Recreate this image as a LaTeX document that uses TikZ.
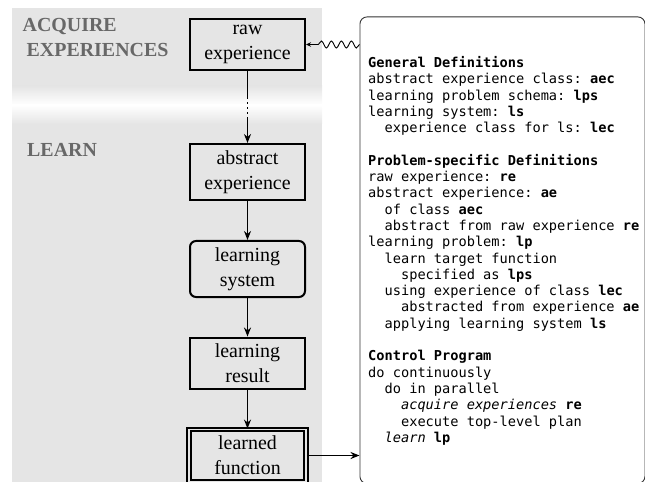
\documentclass[tikz,border=0pt]{standalone}
\usepackage{fontspec}
\setmainfont{Liberation Serif}
\setmonofont{DejaVu Sans Mono}
\usetikzlibrary{positioning,arrows.meta,decorations.pathmorphing}

\definecolor{bggray}{RGB}{229,229,229}
\definecolor{headgray}{RGB}{104,104,104}

% two monospace characters of indentation
\newcommand{\ind}{\hphantom{xx}}

\tikzset{
  stage/.style={draw, line width=2bp, text width=110bp, inner xsep=2.5bp,
    inner ysep=6.5bp, align=center, font=\fontsize{20}{25}\selectfont},
  phase/.style={anchor=north west, inner sep=0pt, align=left, text=headgray,
    font=\fontsize{20}{24.5}\selectfont\bfseries},
  flow/.style={line width=1.9bp},
  flowarrow/.style={flow, -{Stealth[length=9bp,width=7bp]}},
  wave/.style={decorate, decoration={snake, amplitude=3.5bp,
    segment length=10bp, post length=8bp}, line width=0.9bp,
    -{Stealth[length=5bp,width=4.5bp]}},
  defbox/.style={draw=black!80, line width=0.9bp, rounded corners=7bp,
    anchor=north west, minimum width=285bp, minimum height=466.5bp},
  code/.style={anchor=north west, inner sep=0pt, align=left,
    font=\fontsize{13.7}{16.35}\selectfont\ttfamily}
}

\begin{document}
\begin{tikzpicture}[x=1bp, y=-1bp]
  \useasboundingbox (0,0) rectangle (645,482);

  % phase background with a fade between the two phases
  \fill[bggray] (12,8) rectangle (322,490);
  \shade[top color=bggray, bottom color=white] (12,86) rectangle (322,105);
  \shade[top color=white, bottom color=bggray] (12,105) rectangle (322,124);

  \node[phase] (acquire) at (26.5,18.3) {\hspace*{-4bp}ACQUIRE\\EXPERIENCES};
  \node[phase] (learn) at (27,143.3) {LEARN};

  % processing chain
  \node[stage] (raw) at (247.5,44.5) {raw\\experience};
  \node[stage] (abstract) at (247.5,172) {abstract\\experience};
  \node[stage, rounded corners=6bp] (system) at (247.5,269) {learning\\system};
  \node[stage] (result) at (247.5,363.5) {learning\\result};
  \node[stage, line width=1.9bp, double=bggray, double distance=1.5bp,
    inner xsep=3.5bp] (function) at (247.5,455.5) {learned\\function};

  \coordinate[below=26bp of raw.south] (gapA);
  \coordinate[below=48bp of raw.south] (gapB);
  \draw[flow] (raw) -- (gapA);
  \draw[flow, dash pattern=on 2bp off 3bp] (gapA) -- (gapB);
  \draw[flowarrow] (gapB) -- (abstract);
  \draw[flowarrow] (abstract) -- (system);
  \draw[flowarrow] (system) -- (result);
  \draw[flowarrow] (result) -- (function);

  % agent program
  \node[defbox] (defs) at (359.5,16.5) {};
  \node[code] (prog) at (368,56.3) {%
    \textbf{General Definitions}\\
    abstract experience class: \textbf{aec}\\
    learning problem schema: \textbf{lps}\\
    learning system: \textbf{ls}\\
    \ind experience class for ls: \textbf{lec}\\[16.35bp]
    \textbf{Problem-specific Definitions}\\
    raw experience: \textbf{re}\\
    abstract experience: \textbf{ae}\\
    \ind of class \textbf{aec}\\
    \ind abstract from raw experience \textbf{re}\\
    learning problem: \textbf{lp}\\
    \ind learn target function\\
    \ind\ind specified as \textbf{lps}\\
    \ind using experience of class \textbf{lec}\\
    \ind\ind abstracted from experience \textbf{ae}\\
    \ind applying learning system \textbf{ls}\\[16.35bp]
    \textbf{Control Program}\\
    do continuously\\
    \ind do in parallel\\
    \ind\ind \textit{acquire experiences} \textbf{re}\\
    \ind\ind execute top-level plan\\
    \ind \textit{learn} \textbf{lp}};

  \draw[wave] (raw.east -| defs.west) -- (raw.east);
  \draw[flowarrow] (function.east) -- (function.east -| defs.west);
\end{tikzpicture}
\end{document}
